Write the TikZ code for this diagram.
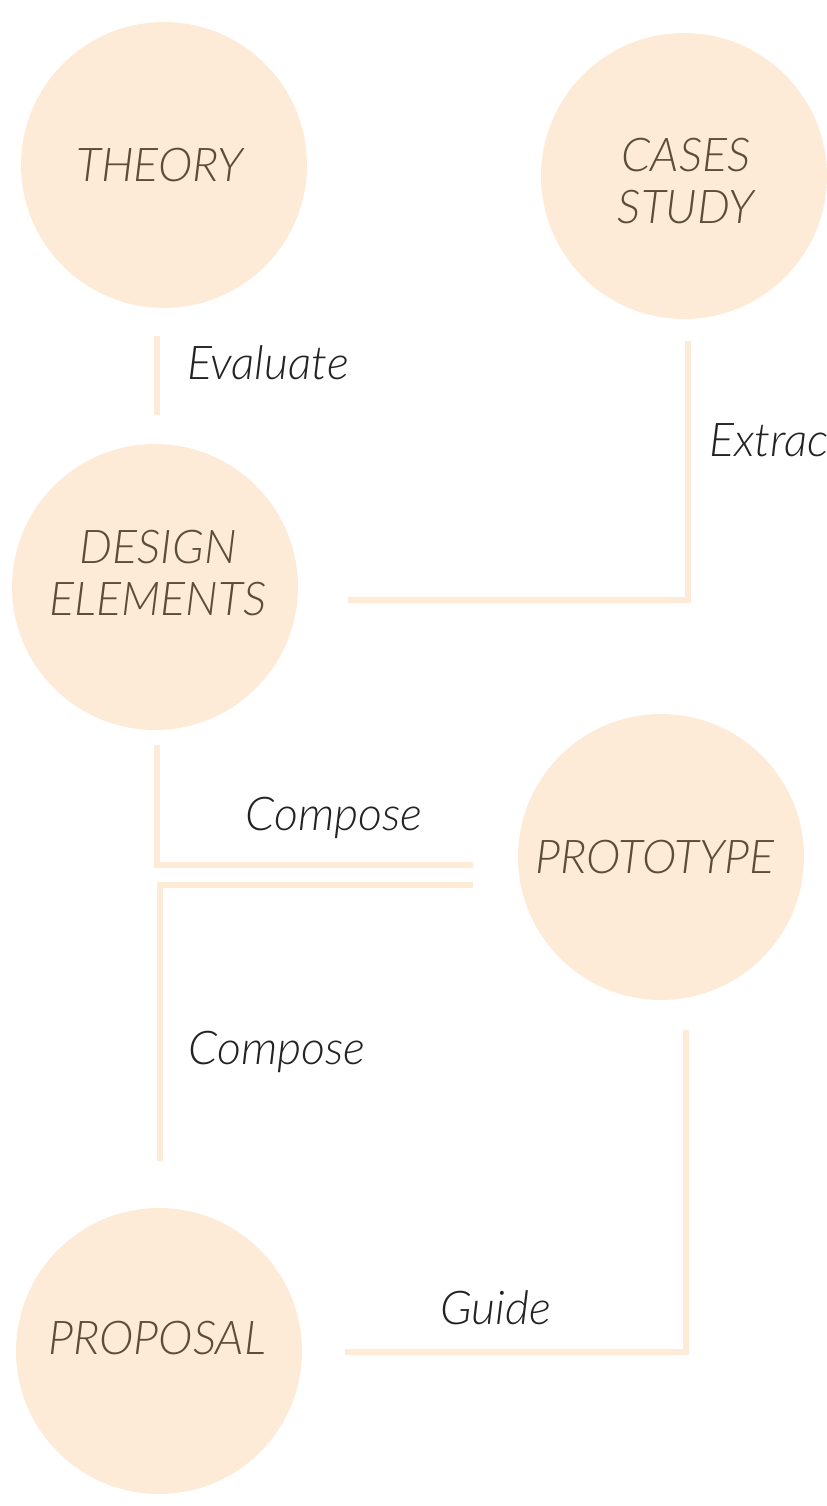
\documentclass[tikz,border=0pt]{standalone}
\usepackage{fontspec}
\setmainfont{Lato}[ItalicFont={Lato Light Italic}]
\usepackage{tikz}
\usetikzlibrary{calc}
\definecolor{peach}{HTML}{FDEBD7}
\definecolor{bark}{HTML}{5C4D3B}
\definecolor{ink}{HTML}{232323}
\tikzset{
  stage/.style={circle,fill=peach,minimum size=5.72cm,inner sep=0pt},
  caption/.style={align=center,text=bark,font=\fontsize{26.5}{29.5}\selectfont\itshape},
  link/.style={draw=peach,line width=2.9pt},
  verb/.style={text=ink,font=\fontsize{26.5}{30}\selectfont\itshape}
}
\begin{document}
\begin{tikzpicture}[x=0.02cm,y=-0.02cm]
 \useasboundingbox (0,0) rectangle (826,1506);
 \node[stage] (theory) at (164,165) {};
 \node[stage] (cases) at (684,176) {};
 \node[stage] (design) at (155,587) {};
 \node[stage] (proto) at (661,857) {};
 \node[stage] (proposal) at (159,1351) {};
 \node[caption] (theoryText) at ($(theory)+(-4,0)$) {THEORY};
 \node[caption] (casesText) at ($(cases)+(2,5)$) {CASES\\STUDY};
 \node[caption] (designText) at ($(design)+(3,-14)$) {DESIGN\\ELEMENTS};
 \node[caption] (protoText) at ($(proto)+(-6,0)$) {PROTOTYPE};
 \node[caption] (proposalText) at ($(proposal)+(-2,-13)$) {PROPOSAL};
 % free ends of the connectors, kept clear of the circles
 \coordinate (evA) at ($(theory.south)+(-7,28)$);
 \coordinate (evB) at ($(design.north)+(2,-29)$);
 \coordinate (exA) at ($(cases.south)+(4,22)$);
 \coordinate (exB) at ($(design.east)+(50,13)$);
 \coordinate (coA) at ($(design.south)+(2,15)$);
 \coordinate (coB) at ($(proto.west)+(-45,8)$);
 \coordinate (cpA) at ($(proto.west)+(-45,28)$);
 \coordinate (cpB) at ($(proposal.north)+(1,-47)$);
 \coordinate (guA) at ($(proto.south)+(25,30)$);
 \coordinate (guB) at ($(proposal.east)+(43,1)$);
 \draw[link] (evA) -- (evB);
 \draw[link] (exA) |- (exB);
 \draw[link] (coA) |- (coB);
 \draw[link] (cpA) -| (cpB);
 \draw[link] (guA) |- (guB);
 \node[verb] (evaluate) at (268,363) {Evaluate};
 \node[verb,anchor=west] (extract) at (703,440) {Extrac};
 \node[verb] (compose) at (334,818) {Compose};
 \node[verb] (compose2) at (277,1052) {Compose};
 \node[verb] (guide) at (496,1308) {Guide};
\end{tikzpicture}
\end{document}
